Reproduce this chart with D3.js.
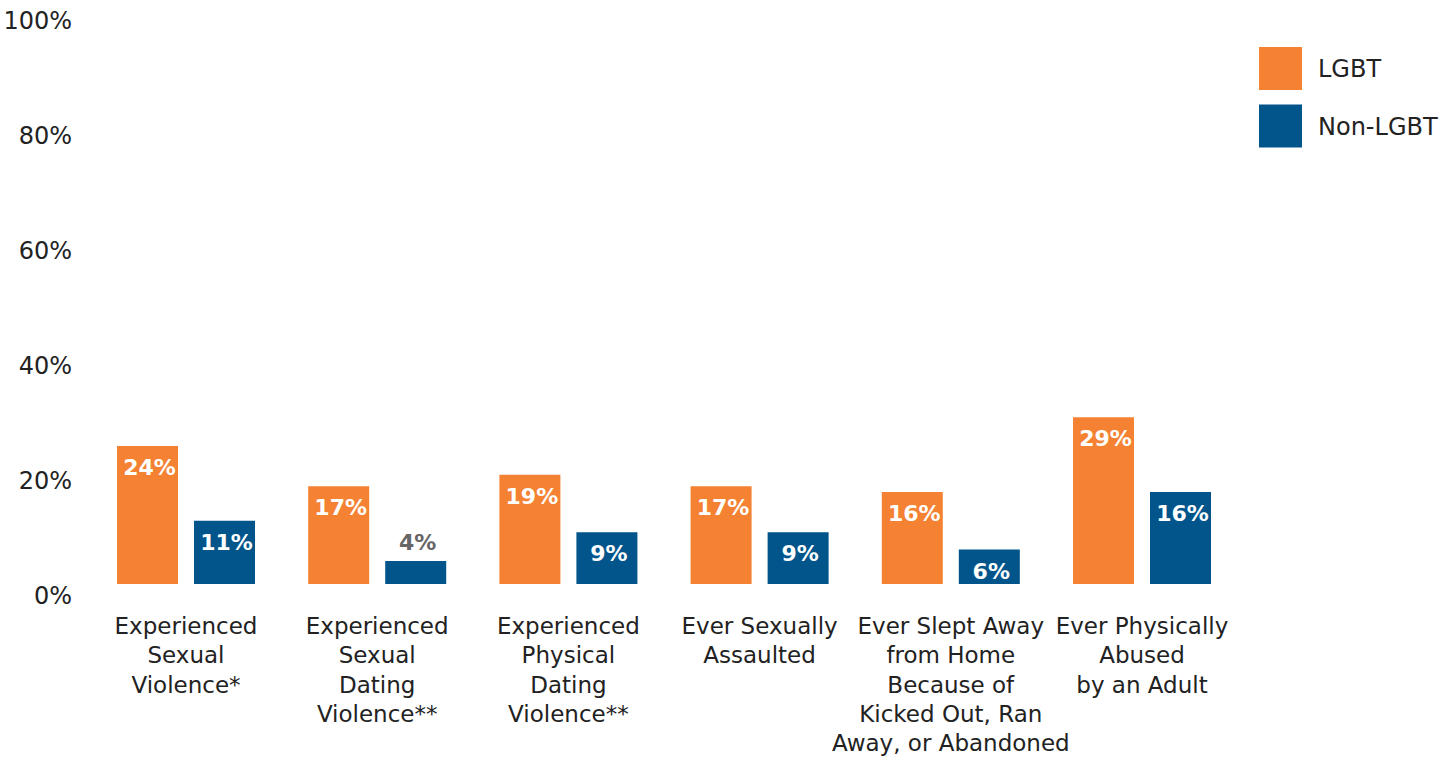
<!DOCTYPE html>
<html><head><meta charset="utf-8">
<script src="https://cdn.jsdelivr.net/npm/d3@7"></script>
<style>body{margin:0;background:#fff}svg{display:block}text{font-family:"DejaVu Sans",sans-serif}</style>
</head><body><svg id="c" width="1453" height="757"></svg>
<script>
const categories = [
  ["Experienced","Sexual","Violence*"],
  ["Experienced","Sexual","Dating","Violence**"],
  ["Experienced","Physical","Dating","Violence**"],
  ["Ever Sexually","Assaulted"],
  ["Ever Slept Away","from Home","Because of","Kicked Out, Ran","Away, or Abandoned"],
  ["Ever Physically","Abused","by an Adult"]
];
const seriesNames = ["LGBT","Non-LGBT"];
const lgbtValues = [24,17,19,17,16,29];
const nonLgbtValues = [11,4,9,9,6,16];
const yTicks = [0,20,40,60,80,100];
const colors = ["#F58233","#02558B"];

const svg = d3.select("#c");
const y = d3.scaleLinear().domain([0,100]).range([584,9]);
const x0 = d3.scaleBand().domain(d3.range(categories.length)).range([90.4,1237.6]).paddingInner(0.2782).paddingOuter(0.1391);
const x1 = d3.scaleBand().domain(seriesNames).range([0,x0.bandwidth()]).paddingInner(0.208);

// y axis labels
const yAxis = d3.axisLeft(y).tickValues(yTicks).tickFormat(d=>d+"%").tickSize(0).tickPadding(0);
const ga = svg.append("g").attr("transform","translate(72,12)").call(yAxis);
ga.select(".domain").remove();
ga.selectAll("text").attr("font-size",24).attr("fill","#222").style("font-family","DejaVu Sans");

const data = categories.map((c,i)=>({i, vals:[lgbtValues[i], nonLgbtValues[i]]}));
const groups = svg.selectAll("g.grp").data(data).join("g").attr("class","grp")
  .attr("transform",d=>`translate(${x0(d.i)},0)`);
groups.selectAll("rect").data(d=>d.vals.map((v,k)=>({v,k}))).join("rect")
  .attr("x",d=>x1(seriesNames[d.k])).attr("width",x1.bandwidth())
  .attr("y",d=>y(d.v)).attr("height",d=>y(0)-y(d.v))
  .attr("fill",d=>colors[d.k]);
groups.selectAll("text.val").data(d=>d.vals.map((v,k)=>({v,k}))).join("text").attr("class","val")
  .attr("x",d=>x1(seriesNames[d.k])+x1.bandwidth()/2+2)
  .attr("y",d=>d.v<6 ? y(d.v)-11 : y(d.v)+29)
  .attr("text-anchor","middle").attr("font-size",22).attr("font-weight","bold")
  .attr("fill",d=>d.v<6 ? "#666" : "#fff")
  .text(d=>d.v+"%");

// category labels
svg.selectAll("text.cat").data(categories).join("text").attr("class","cat")
  .attr("x",(d,i)=>x0(i)+x0.bandwidth()/2).attr("y",634)
  .attr("text-anchor","middle").attr("font-size",23).attr("fill","#222")
  .selectAll("tspan").data(d=>d).join("tspan")
  .attr("x",function(){return d3.select(this.parentNode).attr("x");})
  .attr("dy",(d,j)=>j===0?0:29.3).text(d=>d);

// legend
const lg = svg.append("g").attr("transform","translate(1259,47)");
seriesNames.forEach((s,k)=>{
  lg.append("rect").attr("x",0).attr("y",k*57.5).attr("width",43).attr("height",43).attr("fill",colors[k]);
  lg.append("text").attr("x",59).attr("y",k*57.5+30).attr("font-size",24).attr("fill","#222").text(s);
});
</script></body></html>
